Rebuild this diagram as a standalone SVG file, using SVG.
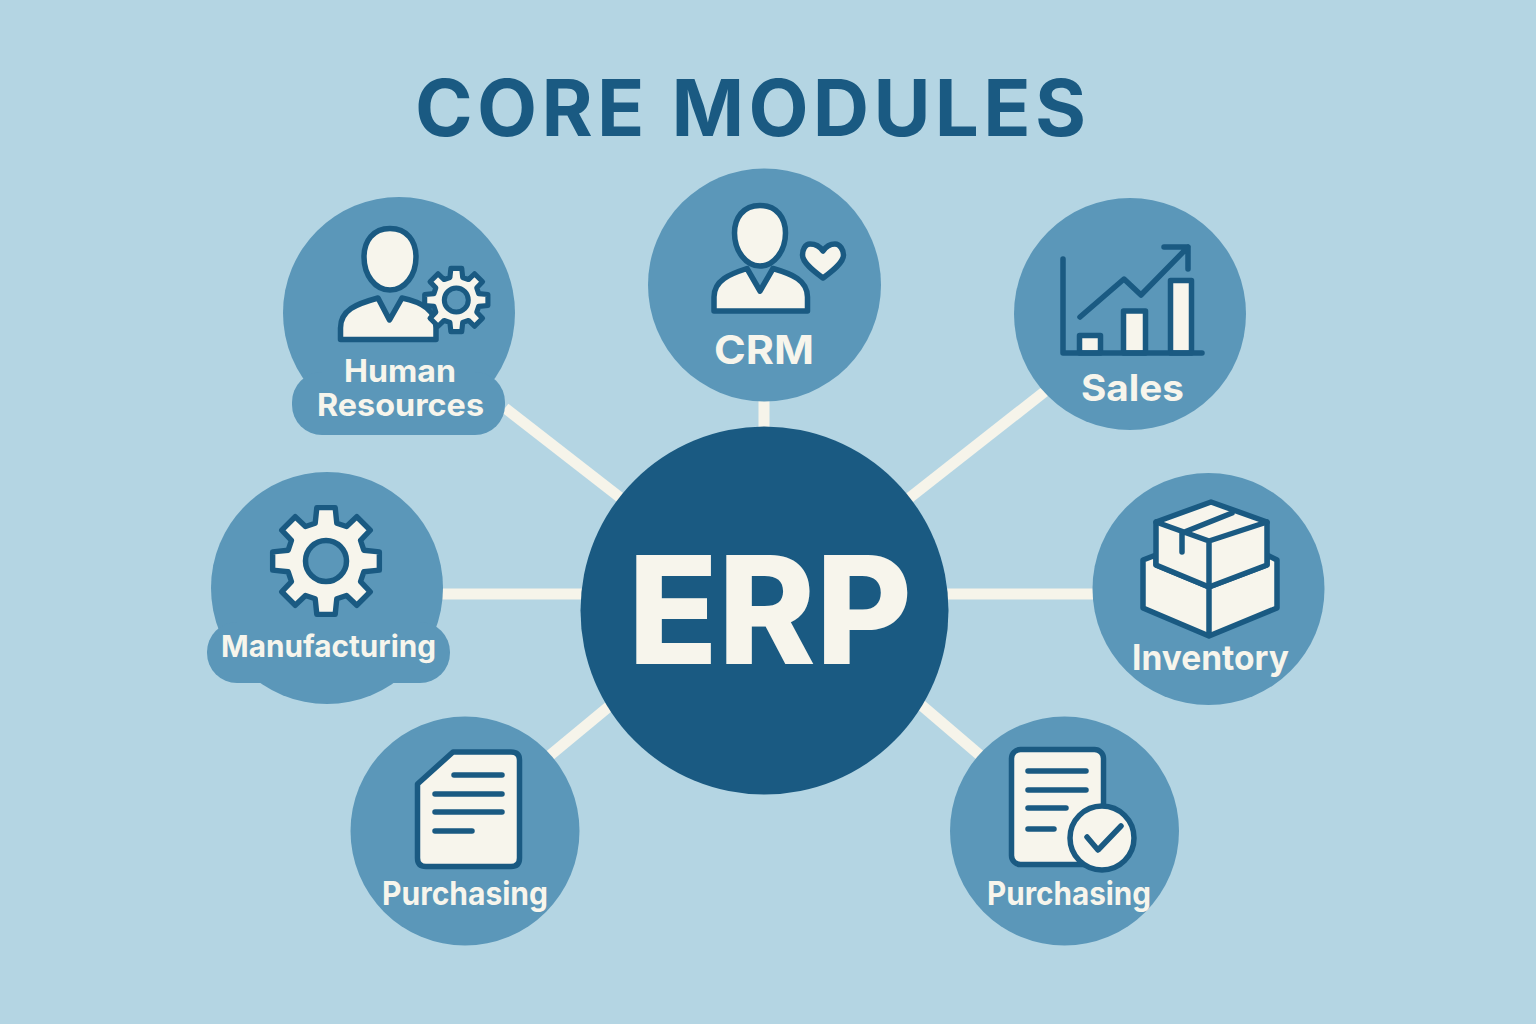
<svg xmlns="http://www.w3.org/2000/svg" width="1536" height="1024" viewBox="0 0 1536 1024">
<style>
.disc{fill:#5b97b9}
.ink{fill:#f7f5ec;stroke:#1a5a82;stroke-width:5.500;stroke-linejoin:round;stroke-linecap:round}
.line{fill:none;stroke:#1a5a82;stroke-width:5.500;stroke-linejoin:round;stroke-linecap:round}
.hole{fill:#5b97b9;stroke:#1a5a82;stroke-width:5.500}
.lbl{font-family:Inter,"Liberation Sans",sans-serif;font-weight:700;fill:#f7f5ec}
.link{stroke:#f6f4ea;stroke-width:11;fill:none}
</style>
<defs>
<path id="gear" d="M70-20L98.800-17V17L70 20L64 38L82 57L57 82L38 64L20 70L17 98.800H-17L-20 70L-38 64L-57 82L-82 57L-64 38L-70 20L-98.800 17V-17L-70-20L-64-38L-82-57L-57-82L-38-64L-20-70L-17-98.800H17L20-70L38-64L57-82L82-57L64-38Z"/>
</defs>
<rect width="1536" height="1024" fill="#b4d5e3"/>
<text id="title" x="415" y="136" textLength="671" lengthAdjust="spacing" font-family="Inter,'Liberation Sans',sans-serif" font-weight="700" font-size="78" fill="#1a5a82">CORE MODULES</text>
<g id="connectors">
<line class="link" x1="505" y1="408" x2="622" y2="499"/>
<line class="link" x1="764" y1="400" x2="764" y2="432"/>
<line class="link" x1="1048" y1="389" x2="908" y2="499"/>
<line class="link" x1="440" y1="594" x2="584" y2="594"/>
<line class="link" x1="946" y1="594" x2="1097" y2="594"/>
<line class="link" x1="612" y1="704" x2="548" y2="757"/>
<line class="link" x1="920" y1="704" x2="982" y2="757"/>
</g>
<g id="erp">
<circle cx="764.500" cy="610.500" r="184" fill="#1a5a82"/>
<text x="628" y="664" textLength="284" lengthAdjust="spacingAndGlyphs" font-family="Inter,'Liberation Sans',sans-serif" font-weight="800" font-size="150" fill="#f7f5ec">ERP</text>
</g>
<g id="human-resources">
<circle class="disc" cx="399" cy="313" r="116"/>
<rect class="disc" x="292" y="372" width="213" height="63" rx="30"/>
<path class="ink" d="M340.500 339.500V328C340.500 310 356 304 378 298L389.500 320L402 298C422 302 436 310 436 328V339.500Z"/>
<path class="ink" d="M390 228.500C407 228.500 416 241 416 257C416 275 405 290 390 290C375 290 364 275 364 257C364 241 373 228.500 390 228.500Z"/>
<use href="#gear" class="ink" transform="translate(456.300 300) scale(.32)" style="stroke-width:16"/>
<circle class="hole" cx="456.300" cy="300" r="12" style="stroke-width:5"/>
<text class="lbl" x="344" y="382" textLength="112" lengthAdjust="spacingAndGlyphs" font-size="31">Human</text>
<text class="lbl" x="317" y="416" textLength="167" lengthAdjust="spacingAndGlyphs" font-size="31">Resources</text>
</g>
<g id="crm">
<circle class="disc" cx="764.500" cy="285" r="116.500"/>
<path class="ink" d="M714 311V297C714 280 730 274 747 268.500L760 291L773 268.500C792 274 807.500 280 807.500 297V311Z"/>
<path class="ink" d="M760 205.500C777 205.500 785.500 218 785.500 233C785.500 251 774 266 760 266C746 266 734.500 251 734.500 233C734.500 218 743 205.500 760 205.500Z"/>
<path class="ink" d="M823 251C819 245 813 244 810 244C805 244 802.500 250 802.500 255C802.500 263 815 272 823 278C831 272 843.500 263 843.500 255C843.500 250 840 244 835 244C832 244 827 245 823 251Z"/>
<text class="lbl" x="714" y="364" textLength="100" lengthAdjust="spacingAndGlyphs" font-size="40">CRM</text>
</g>
<g id="sales">
<circle class="disc" cx="1130" cy="314" r="116"/>
<rect class="ink" x="1079.500" y="335.500" width="21" height="17.500"/>
<rect class="ink" x="1123.500" y="311" width="22" height="42"/>
<rect class="ink" x="1170.500" y="280.500" width="21" height="72.500"/>
<path class="line" d="M1063 259V353H1202"/>
<path class="line" d="M1080 317L1124 279L1141 295L1188 247M1164 247H1188V269"/>
<text class="lbl" x="1081" y="401" textLength="103" lengthAdjust="spacingAndGlyphs" font-size="37">Sales</text>
</g>
<g id="manufacturing">
<circle class="disc" cx="327" cy="588" r="116"/>
<rect class="disc" x="207" y="622" width="243" height="61" rx="30"/>
<use href="#gear" class="ink" transform="translate(326 561) scale(.54)" style="stroke-width:10"/>
<circle class="hole" cx="326" cy="561" r="20.500"/>
<text class="lbl" x="221" y="657" textLength="215" lengthAdjust="spacingAndGlyphs" font-size="30">Manufacturing</text>
</g>
<g id="inventory">
<circle class="disc" cx="1208.500" cy="589" r="116"/>
<path class="ink" d="M1143 560L1156 555V565L1209 587L1267 565V555L1277 560V608L1209 636L1143 608Z"/>
<path class="ink" d="M1156 522L1211 502L1267 522V565L1209 587L1156 565Z"/>
<path class="line" d="M1156 522L1209 541L1267 522M1209 541V634M1232 513L1182 533V552"/>
<text class="lbl" x="1132" y="670" textLength="157" lengthAdjust="spacingAndGlyphs" font-size="35">Inventory</text>
</g>
<g id="purchasing-left">
<circle class="disc" cx="465" cy="831" r="114.500"/>
<path class="ink" d="M453 752H511Q519.500 752 519.500 760V858Q519.500 866.500 511 866.500H426Q417.500 866.500 417.500 858V784Z"/>
<path class="line" d="M454 775H502M435 794H502M435 812H502M435 831H472"/>
<text class="lbl" x="382" y="905" textLength="166" lengthAdjust="spacingAndGlyphs" font-size="32">Purchasing</text>
</g>
<g id="purchasing-right">
<circle class="disc" cx="1064.500" cy="831" r="114.500"/>
<rect class="ink" x="1011.500" y="749.500" width="92" height="115" rx="9"/>
<path class="line" d="M1028 771H1086M1028 790H1086M1028 808H1066M1028 829H1054"/>
<circle class="ink" cx="1102" cy="838" r="32"/>
<path class="line" d="M1087 837L1098 850L1121 826"/>
<text class="lbl" x="987" y="905" textLength="164" lengthAdjust="spacingAndGlyphs" font-size="32">Purchasing</text>
</g>
</svg>
